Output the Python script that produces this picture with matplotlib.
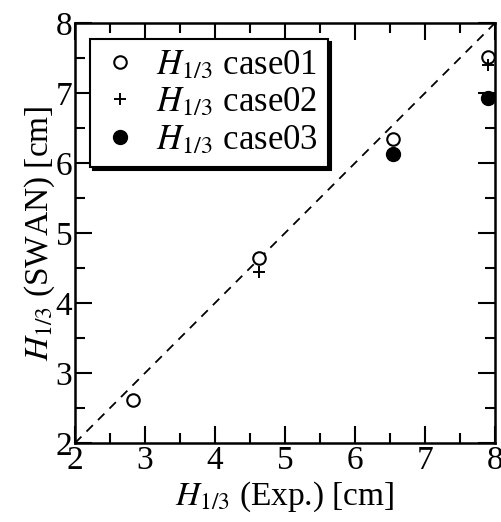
import matplotlib
matplotlib.use('Agg')
import matplotlib.pyplot as plt
from matplotlib.ticker import MultipleLocator

plt.rcParams['font.family'] = ['Liberation Serif', 'DejaVu Serif']
plt.rcParams['mathtext.fontset'] = 'stix'

exp_01 = [2.83, 4.63, 6.55, 7.90]
swan_01 = [2.62, 4.65, 6.35, 7.52]
exp_02 = [4.63, 6.55, 7.90]
swan_02 = [4.45, 6.13, 7.40]
exp_03 = [6.55, 7.90]
swan_03 = [6.13, 6.93]

fig = plt.figure(figsize=(5.01, 5.22), dpi=100)
ax = fig.add_axes([0.1497, 0.1513, 0.8383, 0.8046])

ax.plot([2, 8], [2, 8], 'k--', lw=1.3, dashes=(5, 4))
ax.plot(exp_01, swan_01, 'o', mfc='white', mec='black', mew=1.5, ms=9,
        label=r'$H_{1/3}$ case01', zorder=3)
ax.plot(exp_02, swan_02, '+', color='black', mew=1.4, ms=9,
        label=r'$H_{1/3}$ case02', zorder=4)
ax.plot(exp_03, swan_03, 'o', color='black', ms=10,
        label=r'$H_{1/3}$ case03', zorder=5)

ax.set_xlim(2, 8)
ax.set_ylim(2, 8)
ax.xaxis.set_major_locator(MultipleLocator(1))
ax.yaxis.set_major_locator(MultipleLocator(1))
ax.xaxis.set_minor_locator(MultipleLocator(0.5))
ax.yaxis.set_minor_locator(MultipleLocator(0.5))
ax.tick_params(which='both', direction='in', top=True, right=True,
               labelsize=24, pad=2)
ax.tick_params(which='major', length=12, width=1.5)
ax.tick_params(which='minor', length=7, width=1.5)
for s in ax.spines.values():
    s.set_linewidth(1.8)

ax.set_xlabel(r'$H_{1/3}$ (Exp.) [cm]', fontsize=24, labelpad=2)
ax.set_ylabel(r'$H_{1/3}$ (SWAN) [cm]', fontsize=24, labelpad=-1)

leg = ax.legend(loc='upper left', bbox_to_anchor=(0.036, 0.962),
                borderaxespad=0, fontsize=25, fancybox=False,
                shadow={'color': 'black', 'alpha': 1},
                handletextpad=0.5, labelspacing=0.12, handlelength=1.1,
                borderpad=0.3)
leg.get_frame().set_edgecolor('black')
leg.get_frame().set_linewidth(1.5)

plt.savefig('out.png', dpi=100)
